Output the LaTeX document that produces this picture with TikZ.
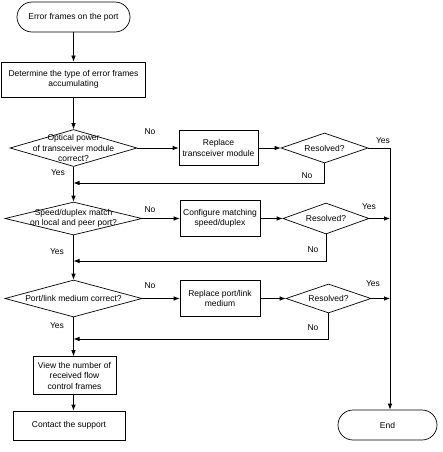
\documentclass[tikz,border=0pt]{standalone}
\usepackage{fontspec}
\setmainfont{Liberation Sans}
\usetikzlibrary{arrows.meta,shapes.geometric}
\begin{document}
\begin{tikzpicture}[x=1pt,y=-1pt,
 font=\fontsize{8.5}{10.5}\selectfont,
 box/.style={draw, rectangle, align=center, inner sep=0pt, line width=0.7pt},
 term/.style={draw, rectangle, rounded corners=15pt, align=center, inner sep=0pt, line width=0.7pt},
 dia/.style={draw, diamond, inner sep=0pt, line width=0.7pt},
 lbl/.style={inner sep=0pt, align=center},
 arr/.style={-{Latex[length=6pt,width=4.5pt]}, line width=0.7pt},
 ln/.style={line width=0.7pt}]
\useasboundingbox (0,0) rectangle (443,452);

% main column
\node[term, minimum width=113, minimum height=30] (start) at (73.5,17) {Error frames on the port};
\node[box, minimum width=144, minimum height=35] (det) at (73.5,79.5) {Determine the type of error frames\\accumulating};
\node[dia, minimum width=127, minimum height=37] (d1) at (73.5,148) {};
\node[lbl] (d1t) at (d1) {Optical power\\of transceiver module\\correct?};
\node[dia, minimum width=137, minimum height=33] (d2) at (73.5,218.5) {};
\node[lbl] (d2t) at (d2) {Speed/duplex match\\on local and peer port?};
\node[dia, minimum width=137, minimum height=37] (d3) at (73.5,298.5) {};
\node[lbl] (d3t) at (d3) {Port/link medium correct?};
\node[box, minimum width=83, minimum height=38] (view) at (74.5,375.5) {View the number of\\received flow\\control frames};
\node[box, minimum width=112, minimum height=29] (contact) at (69,425.5) {Contact the support};

% action boxes
\node[box, minimum width=79, minimum height=35] (b1) at (218.5,148) {Replace\\transceiver module};
\node[box, minimum width=80, minimum height=36] (b2) at (220,218.5) {Configure matching\\speed/duplex};
\node[box, minimum width=80, minimum height=36] (b3) at (220,298.5) {Replace port/link\\medium};

% resolved diamonds
\node[dia, minimum width=87, minimum height=30] (r1) at (324.5,148) {};
\node[lbl] (r1t) at (r1) {Resolved?};
\node[dia, minimum width=86, minimum height=31] (r2) at (326,218.5) {};
\node[lbl] (r2t) at (r2) {Resolved?};
\node[dia, minimum width=85, minimum height=29] (r3) at (328.5,298.5) {};
\node[lbl] (r3t) at (r3) {Resolved?};

\node[term, minimum width=99, minimum height=30] (end) at (387.5,425) {End};

% coordinates
\coordinate (rail) at (390,148);
\coordinate (m1) at (73.5,183);
\coordinate (m2) at (73.5,261);
\coordinate (m3) at (73.5,339);

% vertical chain
\draw[arr] (start) -- (det);
\draw[arr] (det) -- (d1);
\draw[arr] (d1) -- (d2);
\draw[arr] (d2) -- (d3);
\draw[arr] (d3) -- (view.north -| d3.south);
\draw[arr] (view.south -| d3.south) -- (contact.north -| d3.south);

% horizontal flows
\draw[arr] (d1) -- (b1);
\draw[arr] (b1) -- (r1);
\draw[arr] (d2) -- (b2);
\draw[arr] (b2) -- (r2);
\draw[arr] (d3) -- (b3);
\draw[arr] (b3) -- (r3);

% yes rail to End
\draw[arr] (r1.east) -- (rail) -- (rail |- end.north);
\draw[arr] (r2.east) -- (rail |- r2.east);
\draw[arr] (r3.east) -- (rail |- r3.east);

% feedback No loops
\draw[arr] (r1.south) |- (m1);
\draw[arr] (r2.south) |- (m2);
\draw[arr] (r3.south) |- (m3);

% labels
\node[lbl] (n1) at (150,132) {No};
\node[lbl] (n2) at (150,210) {No};
\node[lbl] (n3) at (150,286) {No};
\node[lbl] (y1) at (58,173) {Yes};
\node[lbl] (y2) at (57,252) {Yes};
\node[lbl] (y3) at (57,326) {Yes};
\node[lbl] (ry1) at (383,141) {Yes};
\node[lbl] (ry2) at (369,207) {Yes};
\node[lbl] (ry3) at (373,284) {Yes};
\node[lbl] (rn1) at (307,176) {No};
\node[lbl] (rn2) at (313,250) {No};
\node[lbl] (rn3) at (313,328) {No};
\end{tikzpicture}
\end{document}
